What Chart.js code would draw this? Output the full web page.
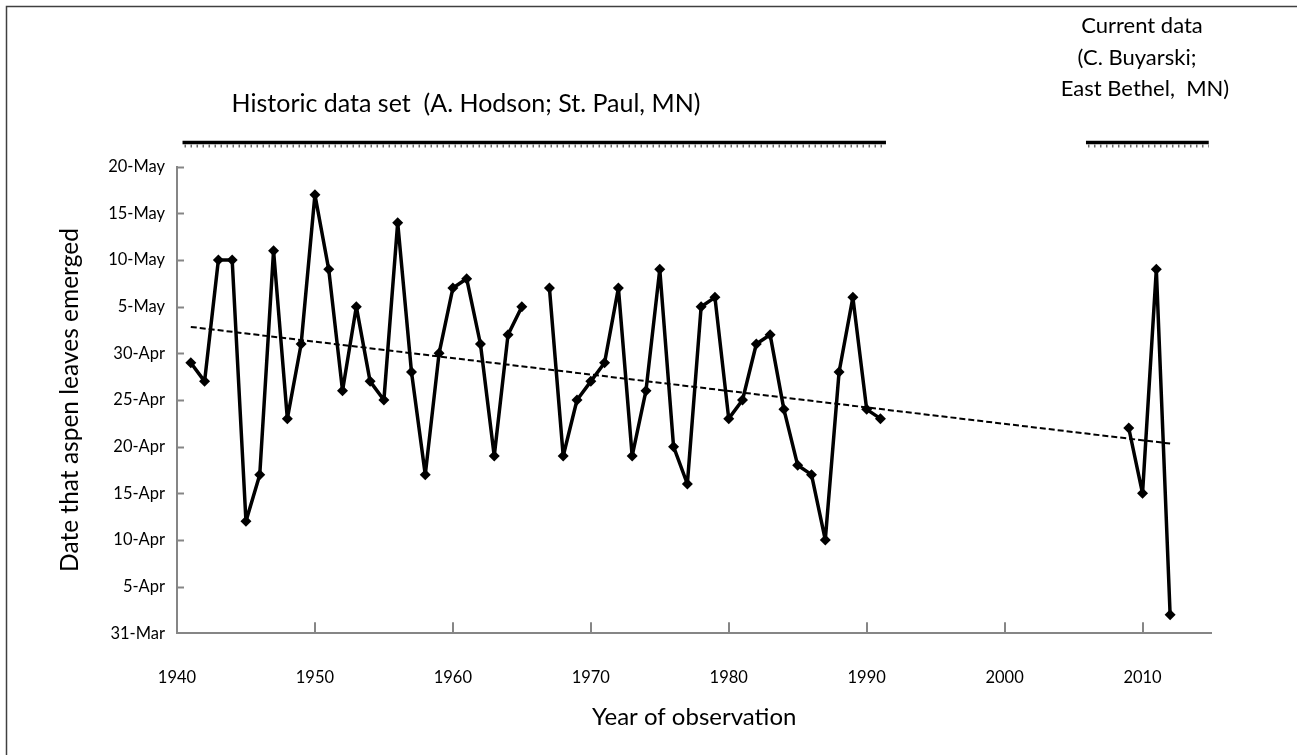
<!DOCTYPE html>
<html>
<head>
<meta charset="utf-8">
<title>Aspen leaf emergence</title>
<script src="https://cdn.jsdelivr.net/npm/chart.js@4/dist/chart.umd.min.js"></script>
<style>
  html, body { margin: 0; padding: 0; background: #ffffff; }
  #wrap { width: 1297px; height: 755px; position: relative; }
</style>
</head>
<body>
<div id="wrap"><canvas id="c" width="1297" height="755"></canvas></div>
<script>
// Historic record, A. Hodson, St. Paul MN (1966 not observed)
const historicYears = [1941, 1942, 1943, 1944, 1945, 1946, 1947, 1948, 1949, 1950,
  1951, 1952, 1953, 1954, 1955, 1956, 1957, 1958, 1959, 1960,
  1961, 1962, 1963, 1964, 1965, 1966, 1967, 1968, 1969, 1970,
  1971, 1972, 1973, 1974, 1975, 1976, 1977, 1978, 1979, 1980,
  1981, 1982, 1983, 1984, 1985, 1986, 1987, 1988, 1989, 1990, 1991];
const historicDates = ['29-Apr', '27-Apr', '10-May', '10-May', '12-Apr', '17-Apr', '11-May', '23-Apr', '1-May', '17-May',
  '9-May', '26-Apr', '5-May', '27-Apr', '25-Apr', '14-May', '28-Apr', '17-Apr', '30-Apr', '7-May',
  '8-May', '1-May', '19-Apr', '2-May', '5-May', null, '7-May', '19-Apr', '25-Apr', '27-Apr',
  '29-Apr', '7-May', '19-Apr', '26-Apr', '9-May', '20-Apr', '16-Apr', '5-May', '6-May', '23-Apr',
  '25-Apr', '1-May', '2-May', '24-Apr', '18-Apr', '17-Apr', '10-Apr', '28-Apr', '6-May', '24-Apr', '23-Apr'];

// Current record, C. Buyarski, East Bethel MN
const currentYears = [2009, 2010, 2011, 2012];
const currentDates = ['22-Apr', '15-Apr', '9-May', '2-Apr'];

// Value-axis labels, every five days from 31 March
const dateTickLabels = ['31-Mar', '5-Apr', '10-Apr', '15-Apr', '20-Apr', '25-Apr',
  '30-Apr', '5-May', '10-May', '15-May', '20-May'];

// Day of year (non-leap) for a "d-Mon" string
const monthStart = { Mar: 59, Apr: 90, May: 120 };
function dayOfYear(s) {
  if (s === null) return null;
  const [d, m] = s.split('-');
  return monthStart[m] + Number(d);
}

const historicPoints = historicYears.map((y, i) => ({ x: y, y: dayOfYear(historicDates[i]) }));
const currentPoints = currentYears.map((y, i) => ({ x: y, y: dayOfYear(currentDates[i]) }));

// Least-squares trend through every observed year
const allPts = historicPoints.concat(currentPoints).filter(p => p.y !== null);
const n = allPts.length;
const mx = allPts.reduce((s, p) => s + p.x, 0) / n;
const my = allPts.reduce((s, p) => s + p.y, 0) / n;
const slope = allPts.reduce((s, p) => s + (p.x - mx) * (p.y - my), 0) /
              allPts.reduce((s, p) => s + (p.x - mx) * (p.x - mx), 0);
const x0 = allPts[0].x, x1 = allPts[n - 1].x;
const trendPoints = [{ x: x0, y: my + slope * (x0 - mx) }, { x: x1, y: my + slope * (x1 - mx) }];

const FONT = 'Lato, "Open Sans", sans-serif';
const AXIS_GREY = '#868686';

const seriesStyle = {
  borderColor: '#000000',
  backgroundColor: '#000000',
  borderWidth: 3.5,
  borderJoinStyle: 'round',
  pointStyle: 'rectRot',
  pointRadius: 5.5,
  pointBorderWidth: 0,
  pointBackgroundColor: '#000000',
  spanGaps: false,
  tension: 0
};

// Inward tick marks, top captions with range bars, and the frame
const decorations = {
  id: 'decorations',
  afterDraw(chart) {
    const ctx = chart.ctx;
    const xs = chart.scales.x, ys = chart.scales.y;
    const area = chart.chartArea;
    ctx.save();

    // inner ticks
    ctx.strokeStyle = AXIS_GREY;
    ctx.lineWidth = 2;
    xs.ticks.forEach(t => {
      if (t.value === xs.min) return;
      const px = Math.round(xs.getPixelForValue(t.value));
      ctx.beginPath();
      ctx.moveTo(px, area.bottom);
      ctx.lineTo(px, area.bottom - 11);
      ctx.stroke();
    });
    ys.ticks.forEach(t => {
      if (t.value === ys.min) return;
      const py = Math.round(ys.getPixelForValue(t.value)) + 0.5;
      ctx.beginPath();
      ctx.moveTo(area.left, py);
      ctx.lineTo(area.left + 7, py);
      ctx.stroke();
    });

    // data-set range bars
    const bars = [[1940.4, 1991.4], [2005.9, 2014.8]];
    const barY = 142.5;
    bars.forEach(([a, b]) => {
      const pa = xs.getPixelForValue(a), pb = xs.getPixelForValue(b);
      ctx.strokeStyle = '#000000';
      ctx.lineWidth = 3.5;
      ctx.setLineDash([]);
      ctx.beginPath();
      ctx.moveTo(pa, barY);
      ctx.lineTo(pb, barY);
      ctx.stroke();
      ctx.strokeStyle = '#6a6a6a';
      ctx.lineWidth = 3;
      ctx.setLineDash([1.5, 4.5]);
      ctx.beginPath();
      ctx.moveTo(pa + 2, barY + 3.5);
      ctx.lineTo(pb, barY + 3.5);
      ctx.stroke();
    });
    ctx.setLineDash([]);

    // captions
    ctx.fillStyle = '#000000';
    ctx.textAlign = 'center';
    ctx.textBaseline = 'middle';
    ctx.font = '25px ' + FONT;
    ctx.fillText('Historic data set  (A. Hodson; St. Paul, MN)', 466, 104);
    ctx.font = '22px ' + FONT;
    ctx.fillText('Current data', 1142, 26);
    ctx.fillText('(C. Buyarski;', 1137, 58);
    ctx.fillText('East Bethel,  MN)', 1145, 89);

    // frame
    ctx.strokeStyle = '#404040';
    ctx.lineWidth = 1.5;
    ctx.beginPath();
    ctx.moveTo(6.5, chart.height);
    ctx.lineTo(6.5, 6.5);
    ctx.lineTo(chart.width, 6.5);
    ctx.stroke();
    ctx.restore();
  }
};

new Chart(document.getElementById('c'), {
  type: 'line',
  data: {
    datasets: [
      Object.assign({ label: 'Historic', data: historicPoints, order: 1 }, seriesStyle),
      Object.assign({ label: 'Current', data: currentPoints, order: 1 }, seriesStyle),
      {
        label: 'Linear trend',
        data: trendPoints,
        borderColor: '#000000',
        borderWidth: 2,
        borderDash: [6, 3],
        pointRadius: 0,
        fill: false,
        order: 2
      }
    ]
  },
  options: {
    responsive: false,
    animation: false,
    devicePixelRatio: 1,
    layout: { padding: { left: 0, top: 166.7, right: 85.5, bottom: 0 } },
    plugins: {
      legend: { display: false },
      tooltip: { enabled: false }
    },
    scales: {
      x: {
        type: 'linear',
        min: 1940,
        max: 2015,
        grid: { display: false, drawTicks: false },
        border: { display: true, color: AXIS_GREY, width: 2 },
        ticks: {
          stepSize: 10,
          includeBounds: false,
          padding: 34,
          color: '#000000',
          font: { family: FONT, size: 16.5 },
          callback: v => String(v)
        },
        title: {
          display: true,
          text: 'Year of observation',
          color: '#000000',
          font: { family: FONT, size: 24 },
          padding: { top: 0, bottom: 23.6 }
        },
        afterFit(scale) { scale.height = 121.7; }
      },
      y: {
        type: 'linear',
        min: 90,
        max: 140,
        grid: { display: false, drawTicks: false },
        border: { display: true, color: AXIS_GREY, width: 2 },
        ticks: {
          stepSize: 5,
          padding: 12,
          color: '#000000',
          font: { family: FONT, size: 16.5 },
          callback: v => dateTickLabels[Math.round((v - 90) / 5)]
        },
        title: {
          display: true,
          text: 'Date that aspen leaves emerged',
          color: '#000000',
          font: { family: FONT, size: 24.5 },
          padding: { top: 55.5, bottom: 0 }
        },
        afterFit(scale) { scale.width = 177; }
      }
    }
  },
  plugins: [decorations]
});
</script>
</body>
</html>
